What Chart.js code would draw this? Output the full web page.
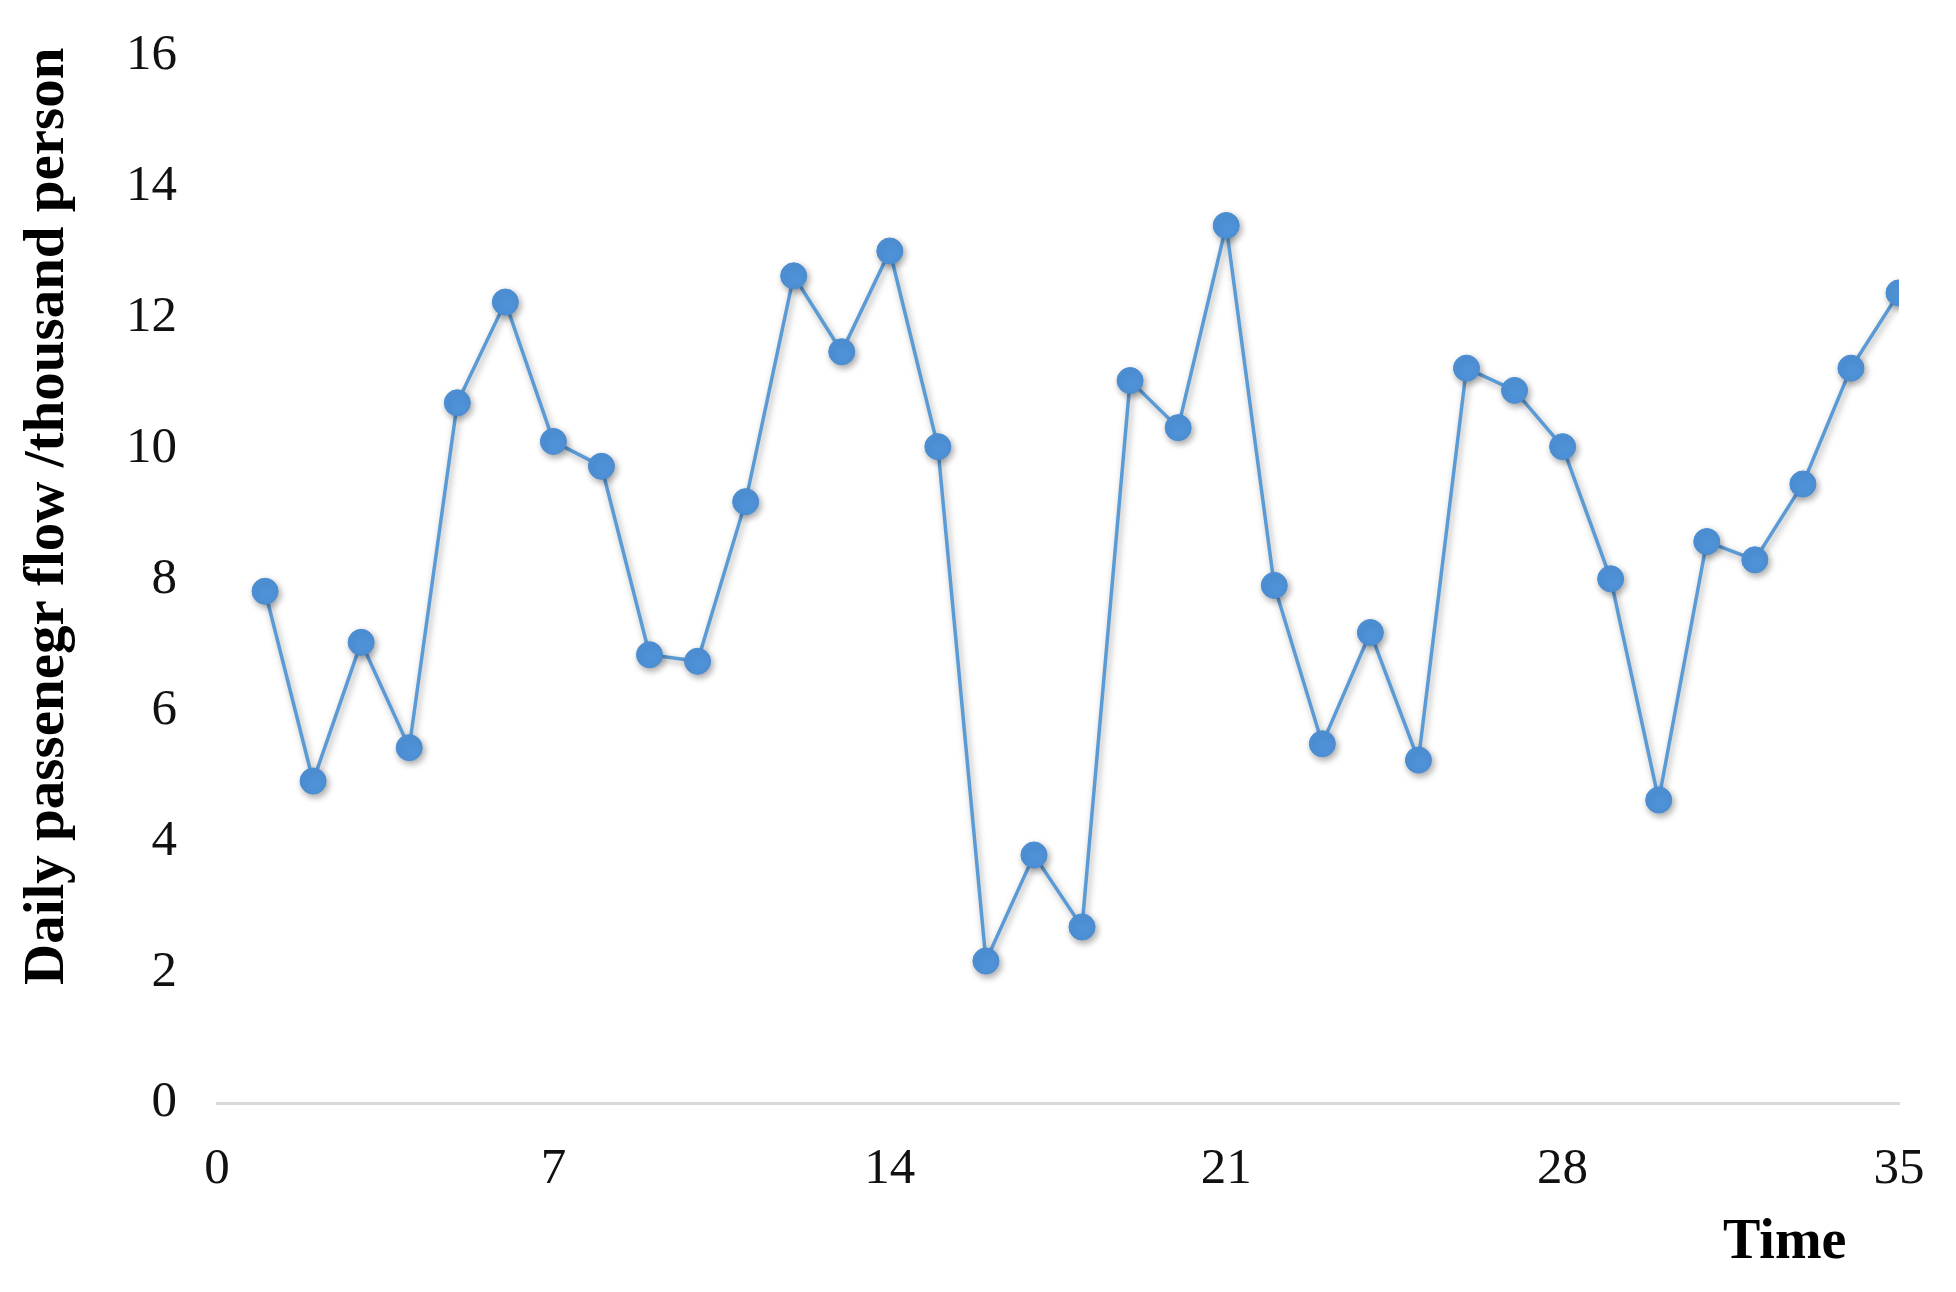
<!DOCTYPE html>
<html>
<head>
<meta charset="utf-8">
<script src="https://cdn.jsdelivr.net/npm/chart.js@4.4.1/dist/chart.umd.min.js"></script>
<style>
  html, body { margin: 0; padding: 0; background: #ffffff; }
  #wrap { width: 1956px; height: 1292px; position: relative; }
</style>
</head>
<body>
<div id="wrap"><canvas id="c"></canvas></div>
<script>
const times = [1, 2, 3, 4, 5, 6, 7, 8, 9, 10, 11, 12, 13, 14, 15, 16, 17, 18,
  19, 20, 21, 22, 23, 24, 25, 26, 27, 28, 29, 30, 31, 32, 33, 34, 35];
const flow = [7.82, 4.92, 7.04, 5.43, 10.70, 12.24, 10.11, 9.73, 6.85, 6.75,
  9.19, 12.64, 11.48, 13.02, 10.03, 2.17, 3.79, 2.69, 11.04, 10.32, 13.41,
  7.91, 5.49, 7.19, 5.24, 11.23, 10.89, 10.03, 8.01, 4.63, 8.58, 8.30, 9.46,
  11.23, 12.38];
const xTicks = [0, 7, 14, 21, 28, 35];
const yTicks = [0, 2, 4, 6, 8, 10, 12, 14, 16];
const xTitle = 'Time';
const yTitle = 'Daily passenegr flow /thousand person';

const shadowPlugin = {
  id: 'shadow',
  beforeDatasetsDraw(chart) {
    const ctx = chart.ctx;
    ctx.save();
    ctx.shadowColor = 'rgba(0,0,0,0.35)';
    ctx.shadowBlur = 7;
    ctx.shadowOffsetX = 2;
    ctx.shadowOffsetY = 3;
  },
  afterDatasetsDraw(chart) {
    chart.ctx.restore();
  }
};

const titlePlugin = {
  id: 'axisTitles',
  afterDraw(chart) {
    const ctx = chart.ctx;
    ctx.save();
    ctx.fillStyle = '#000000';
    ctx.font = 'bold 57px "Liberation Serif", "Times New Roman", serif';
    ctx.textBaseline = 'alphabetic';
    ctx.save();
    ctx.translate(63, 985);
    ctx.rotate(-Math.PI / 2);
    ctx.textAlign = 'left';
    ctx.fillText(yTitle, 0, 0);
    ctx.restore();
    ctx.font = 'bold 56px "Liberation Serif", "Times New Roman", serif';
    ctx.textAlign = 'left';
    ctx.fillText(xTitle, 1723, 1258);
    ctx.restore();
  }
};

const tickFont = { family: '"Liberation Serif", "Times New Roman", serif', size: 51 };

new Chart(document.getElementById('c'), {
  type: 'line',
  data: {
    datasets: [{
      data: times.map((t, i) => ({ x: t, y: flow[i] })),
      borderColor: '#5B9BD5',
      backgroundColor: '#4F92D8',
      pointBackgroundColor: '#4F92D8',
      pointBorderColor: '#4A8CD2',
      pointBorderWidth: 1,
      borderWidth: 3.5,
      pointRadius: 13,
      tension: 0,
      fill: false
    }]
  },
  options: {
    responsive: true,
    maintainAspectRatio: false,
    animation: false,
    layout: { padding: { top: 56, right: 57, left: 0, bottom: 0 } },
    plugins: { legend: { display: false }, tooltip: { enabled: false } },
    scales: {
      x: {
        type: 'linear',
        min: 0,
        max: 35,
        afterBuildTicks(scale) { scale.ticks = xTicks.map(v => ({ value: v })); },
        afterFit(scale) {
          scale.height = 189;
          scale.paddingLeft = 0;
          scale.paddingRight = 0;
        },
        grid: { display: false, drawTicks: false },
        border: { display: true, color: '#d9d9d9', width: 3 },
        ticks: { font: tickFont, color: '#111111', padding: 36, maxRotation: 0 }
      },
      y: {
        type: 'linear',
        min: 0,
        max: 16,
        afterBuildTicks(scale) { scale.ticks = yTicks.map(v => ({ value: v })); },
        afterFit(scale) {
          scale.width = 217;
          scale.paddingTop = 0;
          scale.paddingBottom = 0;
        },
        grid: { display: false, drawTicks: false },
        border: { display: false },
        ticks: { font: tickFont, color: '#111111', padding: 40 }
      }
    }
  },
  plugins: [shadowPlugin, titlePlugin]
});
</script>
</body>
</html>
